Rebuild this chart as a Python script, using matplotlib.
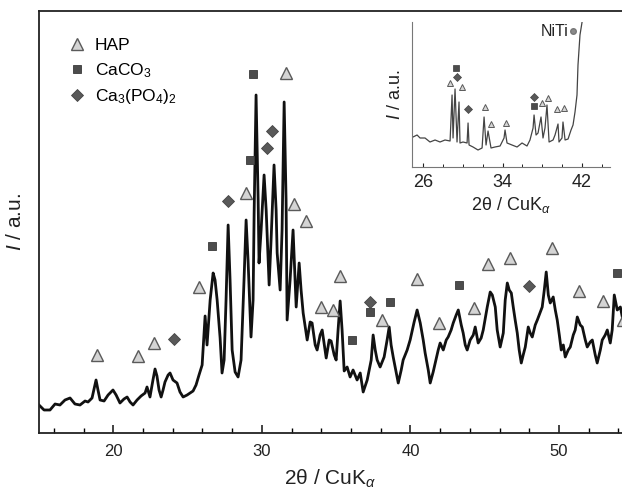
import numpy as np
import matplotlib
matplotlib.use("Agg")
import matplotlib.pyplot as plt
from matplotlib.ticker import MultipleLocator, FixedLocator

plt.rcParams['font.family'] = ['Liberation Sans', 'DejaVu Sans']
plt.rcParams['mathtext.fontset'] = 'custom'
plt.rcParams['mathtext.rm'] = 'Liberation Sans'
plt.rcParams['mathtext.it'] = 'Liberation Sans:italic'

# XRD pattern of the coating (2theta in degrees, intensity in a.u.)
tt = [15.00, 15.34, 15.74, 16.08, 16.41, 16.75, 17.09, 17.42, 17.76, 18.10,
      18.30, 18.57, 18.84, 18.97, 19.11, 19.38, 19.65, 19.98, 20.19, 20.45,
      20.72, 20.93, 21.13, 21.33, 21.60, 21.87, 22.14, 22.27, 22.47, 22.67,
      22.81, 22.94, 23.08, 23.22, 23.35, 23.48, 23.69, 23.82, 24.02, 24.29,
      24.49, 24.70, 24.97, 25.17, 25.37, 25.57, 25.77, 25.98, 26.18, 26.31,
      26.52, 26.72, 26.85, 26.99, 27.19, 27.32, 27.46, 27.59, 27.73, 27.86,
      28.00, 28.20, 28.40, 28.60, 28.80, 28.94, 29.07, 29.27, 29.41, 29.48,
      29.61, 29.75, 29.81, 29.95, 30.15, 30.29, 30.49, 30.62, 30.82, 30.96,
      31.03, 31.23, 31.36, 31.50, 31.63, 31.70, 31.90, 32.10, 32.31, 32.51,
      32.64, 32.78, 33.05, 33.25, 33.38, 33.59, 33.72, 33.92, 34.06, 34.33,
      34.53, 34.66, 34.87, 35.00, 35.13, 35.27, 35.40, 35.54, 35.74, 35.94,
      36.14, 36.41, 36.62, 36.82, 37.09, 37.36, 37.49, 37.63, 37.76, 37.96,
      38.23, 38.43, 38.57, 38.70, 38.84, 39.04, 39.18, 39.38, 39.51, 39.78,
      39.98, 40.25, 40.45, 40.66, 40.86, 40.99, 41.20, 41.33, 41.53, 41.67,
      41.87, 42.00, 42.21, 42.41, 42.54, 42.74, 42.88, 43.08, 43.22, 43.42,
      43.55, 43.69, 43.82, 44.02, 44.23, 44.36, 44.56, 44.76, 44.90, 45.17,
      45.37, 45.51, 45.71, 45.84, 46.04, 46.25, 46.38, 46.52, 46.65, 46.79,
      46.92, 47.05, 47.19, 47.32, 47.46, 47.59, 47.73, 47.93, 48.06, 48.20,
      48.40, 48.54, 48.74, 48.87, 49.01, 49.14, 49.28, 49.41, 49.61, 49.75,
      49.88, 50.02, 50.15, 50.29, 50.42, 50.62, 50.76, 50.96, 51.09, 51.23,
      51.43, 51.57, 51.77, 51.90, 52.10, 52.24, 52.44, 52.57, 52.78, 52.91,
      53.11, 53.25, 53.45, 53.58, 53.72, 53.85, 53.92, 54.13, 54.26]
inten = [28, 23, 23, 29, 28, 33, 35, 29, 28, 32,
         31, 35, 53, 43, 33, 32, 38, 43, 38, 30,
         34, 36, 31, 28, 33, 37, 40, 46, 36, 53,
         64, 57, 43, 36, 43, 51, 58, 60, 53, 50,
         41, 36, 38, 40, 42, 48, 58, 68, 117, 88,
         133, 160, 153, 133, 95, 60, 73, 133, 208, 153,
         83, 61, 56, 73, 153, 213, 173, 96, 133, 220,
         338, 233, 170, 203, 258, 223, 148, 193, 268, 223,
         180, 143, 203, 331, 233, 113, 153, 203, 126, 170,
         143, 120, 93, 111, 110, 88, 83, 98, 103, 75,
         93, 92, 78, 73, 103, 132, 103, 62, 66, 56,
         63, 53, 60, 41, 53, 73, 98, 83, 73, 66,
         76, 93, 106, 88, 76, 61, 50, 63, 73, 83,
         93, 111, 123, 110, 93, 80, 63, 50, 61, 70,
         83, 90, 83, 93, 96, 103, 110, 118, 123, 108,
         100, 88, 83, 93, 98, 106, 90, 95, 103, 126,
         141, 138, 126, 103, 86, 100, 133, 150, 143, 140,
         126, 113, 100, 83, 70, 78, 86, 106, 100, 96,
         108, 113, 121, 126, 143, 161, 138, 130, 136, 123,
         113, 98, 83, 88, 76, 83, 86, 98, 103, 116,
         108, 106, 93, 86, 91, 93, 78, 70, 83, 93,
         98, 103, 90, 103, 138, 128, 123, 126, 116]

# reflex assignments, main pattern
hap_x = [18.91, 21.67, 22.74, 25.77, 28.94, 31.63, 32.17, 32.98, 33.99, 34.80,
         35.27, 38.10, 40.45, 41.94, 44.29, 45.24, 46.72, 49.55, 51.36, 52.98, 54.33]
hap_y = [78, 77, 90, 146, 240, 360, 229, 212, 126, 123,
         157, 113, 154, 110, 125, 169, 175, 185, 142, 132, 113]
caco3_x = [26.65, 29.21, 29.41, 36.08, 37.25, 38.64, 43.28, 53.92]
caco3_y = [187, 273, 359, 93, 121, 131, 148, 160]
tcp_x = [24.09, 27.73, 30.35, 30.69, 37.25, 48.00]
tcp_y = [94, 232, 285, 302, 131, 147]

# inset: pattern with NiTi substrate reflex
tt_in = [24.99, 25.40, 25.70, 26.20, 26.70, 27.21, 27.71, 28.21, 28.72, 28.92,
         29.02, 29.22, 29.42, 29.62, 29.72, 30.02, 30.43, 30.53, 30.63, 31.03,
         31.53, 31.94, 32.14, 32.34, 32.54, 32.84, 33.24, 33.75, 34.15, 34.25,
         34.45, 34.95, 35.46, 35.96, 36.46, 36.76, 37.07, 37.17, 37.37, 37.57,
         37.87, 38.07, 38.27, 38.47, 38.68, 39.08, 39.28, 39.58, 39.68, 39.98,
         40.08, 40.29, 40.59, 40.89, 41.09, 41.29, 41.49, 41.59, 41.79, 42.00]
inten_in = [30, 32, 29, 29, 25, 27, 25, 27, 26, 72,
            29, 78, 25, 65, 24, 25, 24, 44, 22, 20,
            17, 19, 50, 22, 36, 19, 20, 21, 29, 37,
            24, 22, 20, 24, 21, 27, 39, 52, 32, 34,
            50, 29, 39, 62, 25, 27, 32, 43, 25, 29,
            45, 27, 28, 37, 42, 55, 72, 102, 132, 145]

in_hap_x = [28.72, 29.92, 32.24, 32.84, 34.35, 37.97, 38.58, 39.48, 40.19]
in_hap_y = [84, 80, 60, 43, 44, 64, 69, 58, 59]
in_caco3_x = [29.32, 37.17]
in_caco3_y = [99, 61]
in_tcp_x = [29.42, 30.53, 37.17]
in_tcp_y = [90, 58, 70]
niti_x = [41.1]
niti_y = [136]

tri_kw = dict(ls='none', marker='^', mfc='#d4d4d4', mec='#5a5a5a')
sq_kw = dict(ls='none', marker='s', mfc='#4c4c4c', mec='#3a3a3a')
dia_kw = dict(ls='none', marker='D', mfc='#595959', mec='#444444')

fig = plt.figure(figsize=(6.22, 4.96), dpi=100)
ax = fig.add_axes([39 / 622, 63 / 496, 583 / 622, 422 / 496])

ax.plot(tt, inten, color='#111111', lw=2.0)
h1, = ax.plot(hap_x, hap_y, ms=8.5, mew=1.0, clip_on=False, label='HAP', **tri_kw)
h2, = ax.plot(caco3_x, caco3_y, ms=6, mew=0.6, clip_on=False,
              label='CaCO$_\\mathregular{3}$', **sq_kw)
h3, = ax.plot(tcp_x, tcp_y, ms=6.2, mew=0.6, clip_on=False,
              label='Ca$_\\mathregular{3}$(PO$_\\mathregular{4}$)$_\\mathregular{2}$', **dia_kw)

ax.set_xlim(15, 54.24)
ax.set_ylim(0, 422)
ax.xaxis.set_major_locator(MultipleLocator(10))
ax.xaxis.set_minor_locator(MultipleLocator(2))
ax.tick_params(axis='x', which='major', direction='in', length=6, width=1.2,
               labelsize=12, pad=8, colors='#222222')
ax.tick_params(axis='x', which='minor', direction='in', length=3.5, width=1.0)
ax.set_yticks([])
ax.spines['right'].set_visible(False)
for s in ['left', 'bottom', 'top']:
    ax.spines[s].set_linewidth(1.3)
    ax.spines[s].set_color('#222222')
ax.set_xlabel('2θ / CuK$_\\alpha$', fontsize=15, labelpad=6, color='#222222')
ax.set_ylabel('$\\mathit{I}$ / a.u.', fontsize=15, labelpad=10, color='#222222')

ax.legend(handles=[h1, h2, h3], loc='upper left', bbox_to_anchor=(0.03, 0.965),
          frameon=False, fontsize=12.5, handlelength=1.0, handletextpad=0.5,
          labelspacing=0.45, borderaxespad=0.3)

# inset
axi = fig.add_axes([412 / 622, 329 / 496, 198 / 622, 145 / 496])
axi.plot(tt_in, inten_in, color='#444444', lw=0.9)
axi.plot(in_hap_x, in_hap_y, ms=5, mew=0.7, **tri_kw)
axi.plot(in_caco3_x, in_caco3_y, ms=4, mew=0.5, **sq_kw)
axi.plot(in_tcp_x, in_tcp_y, ms=3.6, mew=0.5, **dia_kw)
axi.plot(niti_x, niti_y, ls='none', marker='o', ms=4, mfc='#8a8a8a', mec='#777777')
axi.text(40.6, 136, 'NiTi', ha='right', va='center', fontsize=11.5, color='#222222')
axi.set_xlim(24.89, 44.81)
axi.set_ylim(0, 145)
axi.xaxis.set_major_locator(FixedLocator([26, 34, 42]))
axi.xaxis.set_minor_locator(MultipleLocator(2))
axi.tick_params(axis='x', which='major', direction='in', length=3, width=0.8,
                labelsize=13, pad=5, colors='#222222')
axi.tick_params(axis='x', which='minor', direction='in', length=2, width=0.6)
axi.set_yticks([])
axi.spines['right'].set_visible(False)
axi.spines['top'].set_visible(False)
for s in ['left', 'bottom']:
    axi.spines[s].set_linewidth(0.8)
    axi.spines[s].set_color('#777777')
axi.set_xlabel('2θ / CuK$_\\alpha$', fontsize=13, labelpad=3, color='#222222')
axi.set_ylabel('$\\mathit{I}$ / a.u.', fontsize=13, labelpad=6, color='#222222')
axi.patch.set_alpha(0)

fig.savefig('out.png', dpi=100)
